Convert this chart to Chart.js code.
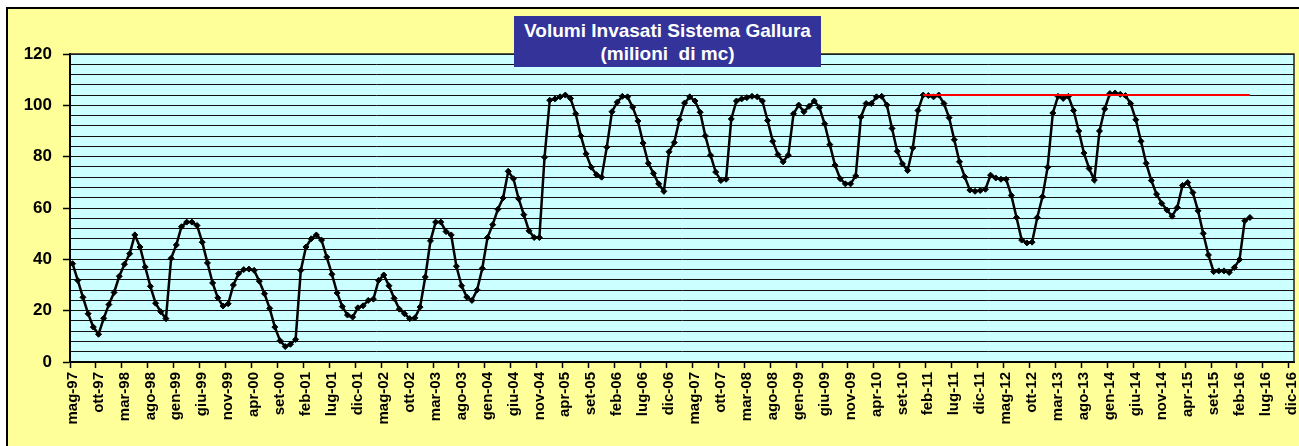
<!DOCTYPE html>
<html>
<head>
<meta charset="utf-8">
<script src="https://cdn.jsdelivr.net/npm/chart.js@4"></script>
<style>
  html, body { margin: 0; padding: 0; background: #ffffff; }
  #wrap { position: relative; width: 1299px; height: 446px; overflow: hidden; }
  #frame { position: absolute; left: 6px; top: 7px; width: 1400px; height: 500px; background: #FFFF99; border: 2px solid #000; }
  #c { position: absolute; left: 0; top: 0; }
  #title { position: absolute; left: 514px; top: 16px; width: 307px; height: 51px; background: #333399; color: #fff;
           font: bold 19px "Liberation Sans", Arial, sans-serif; text-align: center; line-height: 23px; padding-top: 3px; box-sizing: border-box; z-index: 5; white-space: pre; }
</style>
</head>
<body>
<div id="wrap">
  <div id="frame"></div>
  <canvas id="c" width="1299" height="446"></canvas>
  <div id="title">Volumi Invasati Sistema Gallura
(milioni  di mc)</div>
</div>
<script>
// ---- data ----
const monthNames = ['gen','feb','mar','apr','mag','giu','lug','ago','set','ott','nov','dic'];
const firstMonth = 4;   // mag
const firstYear = 1997;
const lastYear = 2016;  // axis runs to dic-16

// Volumes (milioni di mc), monthly from mag-97
const volumes = [
  38.3, 31.8, 25.2, 18.8, 13.6, 10.8, 17.0, 22.4,
  27.1, 33.4, 38.1, 42.2, 49.5, 44.8, 37.0, 29.5, 22.9, 19.6, 16.9,
  40.4, 45.6, 52.7, 54.5, 54.5, 53.2, 46.7, 38.6, 30.8, 25.0, 21.8, 22.7,
  30.0, 34.4, 36.0, 36.2, 35.7, 31.5, 26.6, 20.9, 13.6, 8.3, 6.0, 6.9,
  8.8, 35.7, 44.8, 48.0, 49.5, 47.5, 40.9, 34.2, 26.9, 21.6, 18.3, 17.5,
  21.1, 21.9, 24.0, 24.5, 31.8, 33.9, 29.7, 24.8, 20.6, 18.8, 16.9, 17.2,
  21.4, 33.1, 47.2, 54.5, 54.5, 50.8, 49.5, 37.3, 29.7, 25.3, 24.0, 28.1,
  36.5, 48.5, 53.5, 59.5, 63.9, 74.3, 71.4, 63.6, 57.4, 51.1, 48.5, 48.5,
  79.8, 102.0, 102.5, 103.3, 104.0, 102.7, 96.7, 88.1, 81.1, 75.9, 73.0, 72.0,
  83.7, 97.5, 101.2, 103.5, 103.3, 99.3, 93.9, 85.3, 77.4, 73.5, 69.4, 66.5,
  81.9, 85.5, 94.4, 100.9, 103.3, 101.7, 97.3, 88.1, 80.6, 74.0, 70.7, 71.2,
  94.7, 101.7, 102.5, 103.0, 103.5, 103.3, 101.7, 94.1, 86.0, 80.8, 78.0, 80.6,
  96.7, 100.1, 97.5, 99.6, 101.7, 99.1, 92.8, 84.7, 76.7, 71.4, 69.4, 69.4,
  72.5, 95.4, 100.7, 100.7, 103.3, 103.5, 100.1, 91.0, 82.1, 77.2, 74.6, 83.4,
  98.0, 104.0, 103.8, 103.3, 104.0, 100.7, 95.2, 86.6, 78.0, 72.2, 67.0, 66.5,
  66.8, 67.3, 72.8, 71.7, 71.2, 71.2, 64.9, 56.3, 47.5, 46.4, 46.7, 56.3,
  64.4, 75.9, 97.0, 103.5, 102.7, 103.5, 98.0, 90.0, 81.4, 75.4, 70.9, 90.0,
  98.6, 104.6, 104.8, 104.3, 103.8, 100.7, 94.4, 86.0, 77.4, 70.7, 65.4, 61.8,
  59.2, 56.8, 60.2, 68.8, 69.9, 66.0, 58.9, 50.1, 41.7, 35.2, 35.5, 35.5,
  34.9, 36.8, 39.9, 55.0, 56.3
];

// Reference level (red line)
const sogliaValue = 104;
const sogliaFrom = 'gen-11';
const sogliaTo = 'apr-16';

// y axis
const yMin = 0, yMax = 120, yMinorStep = 4, yLabelStep = 20;
const xLabelEvery = 5;

// ---- build categories ----
const categories = [];
for (let y = firstYear; y <= lastYear; y++) {
  for (let m = (y === firstYear ? firstMonth : 0); m < 12; m++) {
    categories.push(monthNames[m] + '-' + String(y % 100).padStart(2, '0'));
  }
}
const volData = categories.map((c, i) => (i < volumes.length ? volumes[i] : null));
const iFrom = categories.indexOf(sogliaFrom), iTo = categories.indexOf(sogliaTo);
const sogliaData = categories.map((c, i) => (i >= iFrom && i <= iTo ? sogliaValue : null));

const FONT = '"Liberation Sans", Arial, sans-serif';

const plotBg = {
  id: 'plotBg',
  beforeDraw(chart) {
    const a = chart.chartArea, ctx = chart.ctx;
    ctx.save();
    ctx.fillStyle = '#CCFFFF';
    ctx.fillRect(a.left, a.top, a.right - a.left, a.bottom - a.top);
    ctx.restore();
  },
  afterDatasetsDraw(chart) {
    const a = chart.chartArea, ctx = chart.ctx;
    ctx.save();
    ctx.strokeStyle = '#222';
    ctx.lineWidth = 1.5;
    ctx.beginPath();
    ctx.moveTo(a.left, a.top); ctx.lineTo(a.right, a.top); ctx.lineTo(a.right, a.bottom);
    ctx.stroke();
    ctx.restore();
  }
};

new Chart(document.getElementById('c'), {
  type: 'line',
  data: {
    labels: categories,
    datasets: [
      {
        label: 'Soglia',
        data: sogliaData,
        borderColor: '#FF0000',
        borderWidth: 2,
        pointRadius: 0,
        fill: false,
        order: 0
      },
      {
        label: 'Volumi invasati',
        data: volData,
        borderColor: '#000000',
        backgroundColor: '#000000',
        borderWidth: 2.5,
        pointStyle: 'rectRot',
        pointRadius: 3,
        pointBorderWidth: 1,
        pointBackgroundColor: '#000000',
        pointBorderColor: '#000000',
        tension: 0,
        fill: false,
        order: 1
      }
    ]
  },
  options: {
    responsive: false,
    animation: false,
    devicePixelRatio: 1,
    layout: { padding: { top: 54, right: 4, left: 0, bottom: 0 } },
    plugins: { legend: { display: false }, title: { display: false }, tooltip: { enabled: false } },
    scales: {
      x: {
        type: 'category',
        offset: true,
        afterFit(s) { s.height = 84; s.paddingLeft = 0; s.paddingRight = 0; },
        grid: {
          offset: true,
          drawOnChartArea: false,
          tickLength: 6,
          tickWidth: 1.5,
          tickColor: (ctx) => (ctx.index % xLabelEvery === 0 ? '#000' : 'rgba(0,0,0,0)')
        },
        border: { color: '#000', width: 2 },
        ticks: {
          autoSkip: false,
          minRotation: 90,
          maxRotation: 90,
          padding: 4,
          color: '#000',
          font: { family: FONT, size: 15, weight: 'bold' },
          callback(v, i) { return i % xLabelEvery === 0 ? categories[i] : ''; }
        }
      },
      y: {
        min: yMin,
        max: yMax,
        afterFit(s) { s.width = 70; s.paddingTop = 0; s.paddingBottom = 0; },
        grid: {
          color: '#111',
          lineWidth: 1,
          tickLength: 7,
          tickWidth: 1.5,
          tickColor: (ctx) => (ctx.tick && ctx.tick.value % yLabelStep === 0 ? '#000' : 'rgba(0,0,0,0)')
        },
        border: { color: '#000', width: 2 },
        ticks: {
          stepSize: yMinorStep,
          maxTicksLimit: 100,
          autoSkip: false,
          padding: 11,
          color: '#000',
          font: { family: FONT, size: 17, weight: 'bold' },
          callback(v) { return v % yLabelStep === 0 ? String(v) : ''; }
        }
      }
    }
  },
  plugins: [plotBg]
});
</script>
</body>
</html>
